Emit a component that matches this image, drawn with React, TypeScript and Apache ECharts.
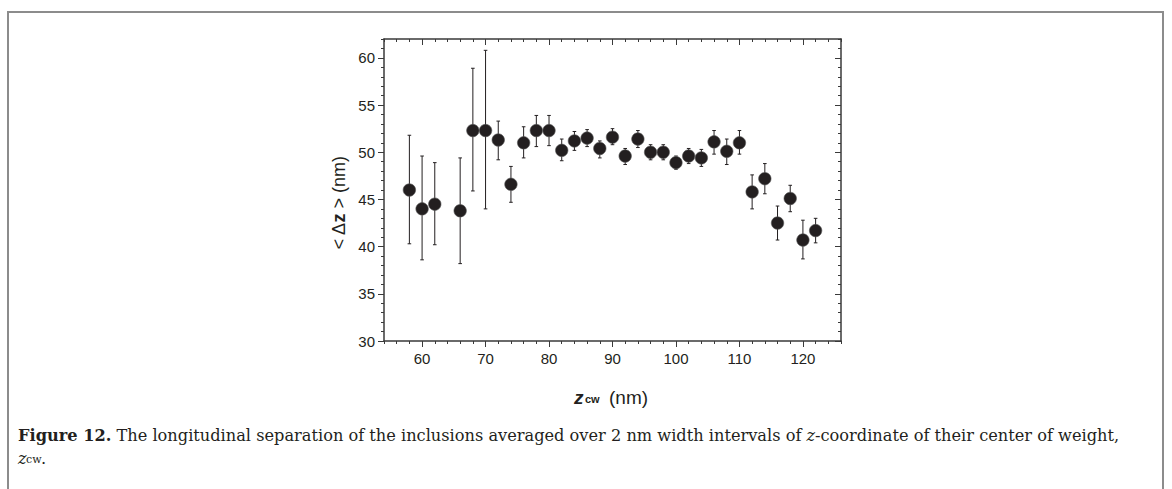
import React, { useEffect, useRef } from "react";
import * as echarts from "echarts";

// z_cw (nm) bin centres
const zcw = [58, 60, 62, 66, 68, 70, 72, 74, 76, 78, 80, 82, 84, 86, 88, 90, 92, 94, 96, 98, 100, 102, 104, 106, 108, 110, 112, 114, 116, 118, 120, 122];
// <Δz> (nm)
const meanDz = [46.0, 44.0, 44.5, 43.8, 52.3, 52.3, 51.3, 46.6, 51.0, 52.3, 52.3, 50.2, 51.2, 51.5, 50.4, 51.6, 49.6, 51.4, 50.0, 50.0, 48.9, 49.6, 49.4, 51.1, 50.1, 51.0, 45.8, 47.2, 42.5, 45.1, 40.7, 41.7];
// error bar upper / lower ends
const errHigh = [51.8, 49.6, 48.9, 49.4, 58.9, 60.8, 53.3, 48.5, 52.7, 53.9, 53.9, 51.4, 52.2, 52.4, 51.2, 52.5, 50.4, 52.3, 50.8, 50.8, 49.6, 50.4, 50.3, 52.3, 51.4, 52.3, 47.6, 48.8, 44.3, 46.5, 42.8, 43.0];
const errLow = [40.3, 38.6, 40.2, 38.2, 45.9, 44.0, 49.2, 44.7, 49.4, 50.6, 50.7, 49.1, 50.2, 50.6, 49.4, 50.8, 48.7, 50.5, 49.2, 49.2, 48.2, 48.8, 48.5, 49.8, 48.7, 49.8, 44.0, 45.6, 40.7, 43.7, 38.7, 40.4];

// axis ticks
const xMajorTicks = [60, 70, 80, 90, 100, 110, 120];
const xMinorTicks = [54, 56, 58, 62, 64, 66, 68, 72, 74, 76, 78, 82, 84, 86, 88, 92, 94, 96, 98, 102, 104, 106, 108, 112, 114, 116, 118, 122, 124, 126];
const yMajorTicks = [30, 35, 40, 45, 50, 55, 60];
const yMinorTicks = [31, 32, 33, 34, 36, 37, 38, 39, 41, 42, 43, 44, 46, 47, 48, 49, 51, 52, 53, 54, 56, 57, 58, 59, 61, 62];

const X_MIN = 54, X_MAX = 126, Y_MIN = 30, Y_MAX = 62;
const INK = "#231f20";
const AXIS = "#3a3a3a";
const SANS = "Liberation Sans, Arial, sans-serif";
const SERIF = "DejaVu Serif, serif";

function xAxisDef(position: string, ticks: number[], len: number, inside: boolean, labels: boolean, line: boolean) {
  return {
    type: "value", position, min: X_MIN, max: X_MAX,
    axisLine: { show: line, onZero: false, lineStyle: { color: AXIS, width: 1.5 } },
    axisTick: { show: true, customValues: ticks, length: len, inside, lineStyle: { color: AXIS, width: 1 } },
    axisLabel: labels
      ? { show: true, customValues: xMajorTicks, color: INK, fontFamily: SANS, fontSize: 15, margin: 10 }
      : { show: false },
    splitLine: { show: false },
  };
}
function yAxisDef(position: string, ticks: number[], len: number, inside: boolean, labels: boolean, line: boolean) {
  return {
    type: "value", position, min: Y_MIN, max: Y_MAX,
    axisLine: { show: line, onZero: false, lineStyle: { color: AXIS, width: 1.5 } },
    axisTick: { show: true, customValues: ticks, length: len, inside, lineStyle: { color: AXIS, width: 1 } },
    axisLabel: labels
      ? { show: true, customValues: yMajorTicks, color: INK, fontFamily: SANS, fontSize: 15, margin: 9 }
      : { show: false },
    splitLine: { show: false },
  };
}

export default function App() {
  const ref = useRef<HTMLDivElement>(null);
  useEffect(() => {
    if (!ref.current) return;
    const chart = echarts.init(ref.current, null, { renderer: "svg" });
    const errData = zcw.map((x, i) => [x, errLow[i], errHigh[i]]);
    const ptData = zcw.map((x, i) => [x, meanDz[i]]);
    chart.setOption({
      animation: false,
      backgroundColor: "#ffffff",
      grid: { left: 384, top: 39, width: 457, height: 302, containLabel: false },
      xAxis: [
        xAxisDef("bottom", xMajorTicks, 6, false, true, true),
        xAxisDef("bottom", xMinorTicks, 3, false, false, false),
        xAxisDef("top", xMajorTicks, 6, true, false, true),
        xAxisDef("top", xMinorTicks, 3, true, false, false),
      ],
      yAxis: [
        yAxisDef("left", yMajorTicks, 6, false, true, true),
        yAxisDef("left", yMinorTicks, 3, false, false, false),
        yAxisDef("right", yMajorTicks, 6, true, false, true),
        yAxisDef("right", yMinorTicks, 3, true, false, false),
      ],
      series: [
        {
          type: "custom",
          xAxisIndex: 0, yAxisIndex: 0,
          data: errData,
          encode: { x: 0, y: [1, 2] },
          renderItem: (params: any, api: any) => {
            const x = api.value(0);
            const lo = api.coord([x, api.value(1)]);
            const hi = api.coord([x, api.value(2)]);
            const c = 1.8;
            const st = { stroke: INK, lineWidth: 1 };
            return {
              type: "group",
              children: [
                { type: "line", shape: { x1: hi[0], y1: hi[1], x2: lo[0], y2: lo[1] }, style: st },
                { type: "line", shape: { x1: hi[0] - c, y1: hi[1], x2: hi[0] + c, y2: hi[1] }, style: st },
                { type: "line", shape: { x1: lo[0] - c, y1: lo[1], x2: lo[0] + c, y2: lo[1] }, style: st },
              ],
            };
          },
          z: 2,
        },
        {
          type: "scatter",
          xAxisIndex: 0, yAxisIndex: 0,
          data: ptData,
          symbol: "circle",
          symbolSize: 12.5,
          itemStyle: { color: INK, opacity: 1, borderColor: "#555555", borderWidth: 0.6 },
          z: 3,
        },
      ],
      graphic: [
        {
          type: "rect", silent: true,
          shape: { x: 8, y: 12, width: 1155, height: 520 },
          style: { fill: "none", stroke: "#8c8c8c", lineWidth: 2 },
        },
        {
          type: "text", x: 339, y: 203, rotation: Math.PI / 2,
          style: {
            text: "{n|< Δ}{b|z}{n| > (nm)}",
            align: "center", verticalAlign: "middle",
            rich: {
              n: { fontFamily: SANS, fontSize: 18, fill: INK },
              b: { fontFamily: SANS, fontSize: 18, fontWeight: "bold", fill: INK },
            },
          },
        },
        {
          type: "text", x: 574, y: 388,
          style: { text: "z", fontFamily: SANS, fontSize: 19, fontWeight: "bold", fontStyle: "italic", fill: INK, align: "left", verticalAlign: "alphabetic" },
        },
        {
          type: "text", x: 585, y: 393,
          style: { text: "cw", fontFamily: SANS, fontSize: 11, fontWeight: "bold", fill: INK, align: "left", verticalAlign: "alphabetic" },
        },
        {
          type: "text", x: 609, y: 388,
          style: { text: "(nm)", fontFamily: SANS, fontSize: 19, fill: INK, align: "left", verticalAlign: "alphabetic" },
        },
        {
          type: "text", x: 18, y: 427,
          style: {
            text: "{b|Figure 12.}{n| The longitudinal separation of the inclusions averaged over 2 nm width intervals of }{i|z}{n|-coordinate of their center of weight,}",
            align: "left", verticalAlign: "alphabetic",
            rich: {
              b: { fontFamily: SERIF, fontSize: 16.2, fontWeight: "bold", fill: INK },
              n: { fontFamily: SERIF, fontSize: 16.2, fill: INK },
              i: { fontFamily: SERIF, fontSize: 16.2, fontStyle: "italic", fill: INK },
            },
          },
        },
        {
          type: "text", x: 18, y: 450,
          style: { text: "z", fontFamily: SERIF, fontSize: 16.2, fontStyle: "italic", fill: INK, align: "left", verticalAlign: "alphabetic" },
        },
        {
          type: "text", x: 26, y: 454,
          style: { text: "cw", fontFamily: SERIF, fontSize: 11, fill: INK, align: "left", verticalAlign: "alphabetic" },
        },
        {
          type: "text", x: 41, y: 450,
          style: { text: ".", fontFamily: SERIF, fontSize: 16.2, fill: INK, align: "left", verticalAlign: "alphabetic" },
        },
      ],
    });
    return () => chart.dispose();
  }, []);
  return <div ref={ref} style={{ position: "fixed", left: 0, top: 0, width: 1172, height: 489 }} />;
}
